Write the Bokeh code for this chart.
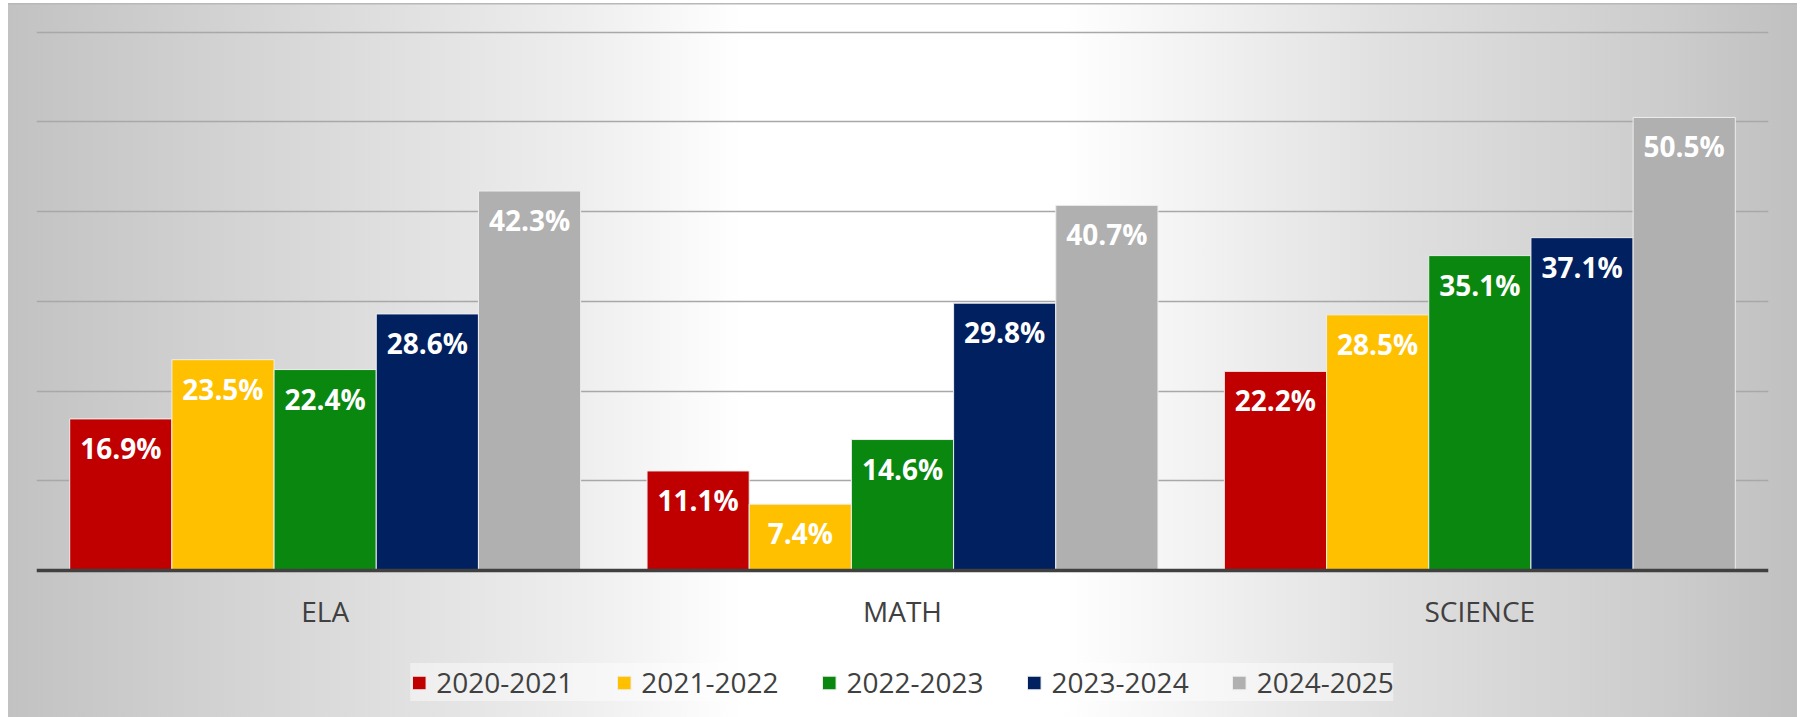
from bokeh.plotting import figure
from bokeh.models import ColumnDataSource, FactorRange, Range1d, Grid, FixedTicker, LabelSet, Legend, LegendItem, Span
from bokeh.transform import dodge
from bokeh.core.properties import value
from bokeh.embed import file_html
from bokeh.resources import INLINE

categories = ["ELA", "MATH", "SCIENCE"]
years = ["2020-2021", "2021-2022", "2022-2023", "2023-2024", "2024-2025"]
v2020_2021 = [16.9, 11.1, 22.2]
v2021_2022 = [23.5, 7.4, 28.5]
v2022_2023 = [22.4, 14.6, 35.1]
v2023_2024 = [28.6, 29.8, 37.1]
v2024_2025 = [42.3, 40.7, 50.5]
series = [v2020_2021, v2021_2022, v2022_2023, v2023_2024, v2024_2025]
colors = ["#C00000", "#FFC000", "#0A870E", "#002060", "#B0B0B0"]
grid_ticks = [10, 20, 30, 40, 50, 60]

FONT = "Open Sans"
TEXT_COLOR = "#404040"

# the frame reaches the bottom of the figure: the area below 0 holds the
# category labels and the legend
p = figure(
    width=1789, height=714,
    x_range=FactorRange(*categories),
    y_range=Range1d(-16.38, 60.19),
    x_axis_location=None, y_axis_location=None,
    output_backend="svg", toolbar_location=None, tools="",
    min_border_left=28, min_border_right=29, min_border_top=27, min_border_bottom=0,
)
p.styles = {
    "margin-left": "8px",
    "margin-top": "3px",
    "box-shadow": "inset 0 1.5px 0 #b8b8b8",
    "background": "linear-gradient(90deg, #c2c2c2 0%, #dcdcdc 19%, #eeeeee 32%, #ffffff 41%, #ffffff 59%, #e0e0e0 77%, #cccccc 93%, #c0c0c0 100%)",
}
p.border_fill_color = None
p.background_fill_color = None
p.outline_line_color = None
p.grid.visible = False

grid = Grid(dimension=1, ticker=FixedTicker(ticks=grid_ticks),
            grid_line_color="#A8A8A8", grid_line_width=1.5)
p.add_layout(grid)

bw = 0.177
items = []
for i, (yr, vals, col) in enumerate(zip(years, series, colors)):
    src = ColumnDataSource(dict(cat=categories, val=vals, lab=[f"{v:.1f}%" for v in vals]))
    off = (i - 2) * bw
    r = p.vbar(x=dodge("cat", off, range=p.x_range), top="val", bottom=0, width=bw, source=src,
               fill_color=col, line_color="#EEEEEE", line_width=1)
    items.append(LegendItem(label=yr, renderers=[r]))
    labels = LabelSet(x=dodge("cat", off, range=p.x_range), y="val", text="lab", source=src,
                      y_offset=-29, text_align="center", text_baseline="middle",
                      text_font=value(FONT), text_font_style="bold", text_font_size="28px",
                      text_color="white")
    p.add_layout(labels)

# category axis: baseline and labels
p.add_layout(Span(location=0, dimension="width", line_color=TEXT_COLOR, line_width=3.5))
cat_src = ColumnDataSource(dict(cat=categories, base=[0] * len(categories)))
cat_labels = LabelSet(x="cat", y="base", text="cat", source=cat_src,
                      y_offset=-40, text_align="center", text_baseline="middle",
                      text_font=value(FONT), text_font_size="28px", text_color=TEXT_COLOR)
p.add_layout(cat_labels)

legend = Legend(items=items, orientation="horizontal", location="bottom_center",
                label_text_font=FONT, label_text_font_size="28px", label_text_color=TEXT_COLOR,
                glyph_width=17, glyph_height=17, label_standoff=9, spacing=42,
                padding=8, margin=16,
                background_fill_color="white", background_fill_alpha=0.45,
                border_line_color=None)
p.add_layout(legend)

open("out.html", "w").write(file_html(p, INLINE))
